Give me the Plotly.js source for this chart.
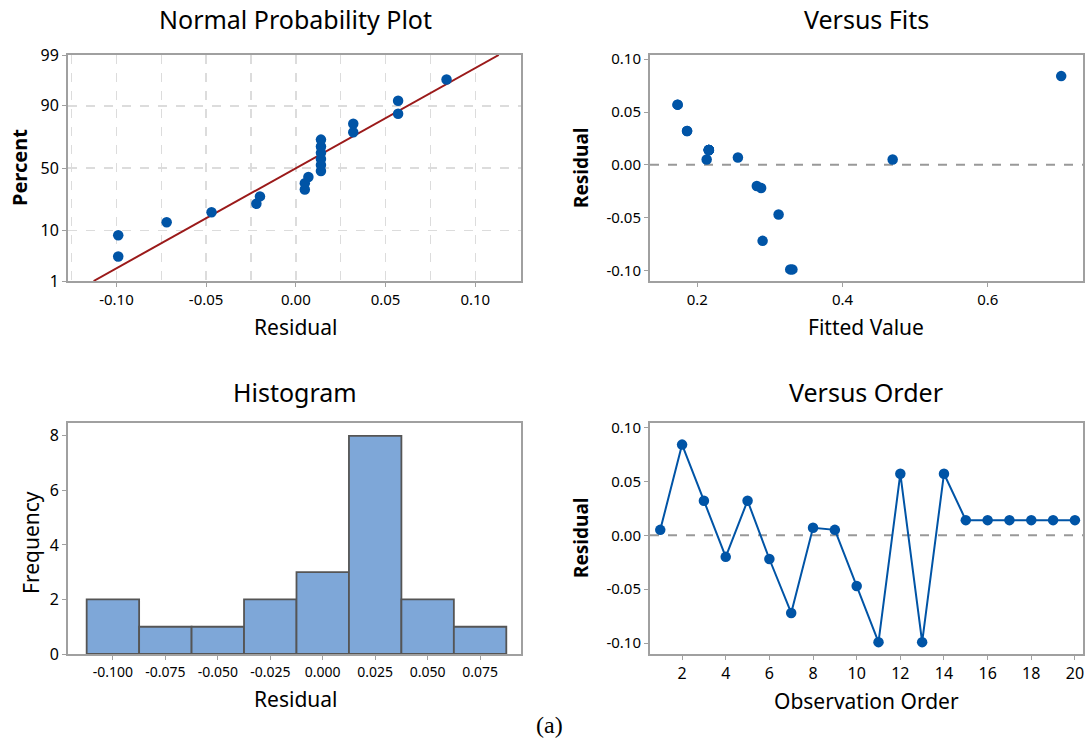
<!DOCTYPE html>
<html><head><meta charset="utf-8">
<script src="https://cdn.plot.ly/plotly-3.0.1.min.js"></script>
<style>html,body{margin:0;padding:0;background:#fff}</style>
</head><body><div id="chart" style="width:1089px;height:743px"></div>
<script>
// ---- data ----
const observationOrder = [1,2,3,4,5,6,7,8,9,10,11,12,13,14,15,16,17,18,19,20];
const residuals = [0.005,0.084,0.032,-0.020,0.032,-0.022,-0.072,0.007,0.005,-0.047,-0.099,0.057,-0.099,0.057,0.014,0.014,0.014,0.014,0.014,0.014];
const fittedValues = [0.469,0.701,0.186,0.282,0.186,0.288,0.290,0.256,0.213,0.312,0.328,0.173,0.331,0.173,0.216,0.216,0.216,0.216,0.216,0.216];
const percentTicks = [1,10,50,90,99];
const normalXTicks = [-0.10,-0.05,0.00,0.05,0.10];
const residualTicks = [-0.10,-0.05,0.00,0.05,0.10];
const fitTicks = [0.2,0.4,0.6];
const histXTicks = [-0.100,-0.075,-0.050,-0.025,0.000,0.025,0.050,0.075];
const histYTicks = [0,2,4,6,8];
const orderTicks = [2,4,6,8,10,12,14,16,18,20];
const histBinStart = -0.1125, histBinEnd = 0.0875, histBinSize = 0.025;

// ---- helpers ----
function probit(p){
  const a=[-3.969683028665376e+01,2.209460984245205e+02,-2.759285104469687e+02,1.383577518672690e+02,-3.066479806614716e+01,2.506628277459239e+00];
  const b=[-5.447609879822406e+01,1.615858368580409e+02,-1.556989798598866e+02,6.680131188771972e+01,-1.328068155288572e+01];
  const c=[-7.784894002430293e-03,-3.223964580411365e-01,-2.400758277161838e+00,-2.549732539343734e+00,4.374664141464968e+00,2.938163982698783e+00];
  const d=[7.784695709041462e-03,3.224671290700398e-01,2.445134137142996e+00,3.754408661907416e+00];
  const pl=0.02425, ph=1-pl; let q,r;
  if(p<pl){q=Math.sqrt(-2*Math.log(p));return (((((c[0]*q+c[1])*q+c[2])*q+c[3])*q+c[4])*q+c[5])/((((d[0]*q+d[1])*q+d[2])*q+d[3])*q+1);}
  if(p<=ph){q=p-0.5;r=q*q;return (((((a[0]*r+a[1])*r+a[2])*r+a[3])*r+a[4])*r+a[5])*q/(((((b[0]*r+b[1])*r+b[2])*r+b[3])*r+b[4])*r+1);}
  q=Math.sqrt(-2*Math.log(1-p));return -(((((c[0]*q+c[1])*q+c[2])*q+c[3])*q+c[4])*q+c[5])/((((d[0]*q+d[1])*q+d[2])*q+d[3])*q+1);
}
const n = residuals.length;
const sorted = residuals.slice().sort((a,b)=>a-b);
const plotPos = sorted.map((_,i)=>(i+1-0.3)/(n+0.4));           // median ranks
const mean = residuals.reduce((s,v)=>s+v,0)/n;
const sd = Math.sqrt(residuals.reduce((s,v)=>s+(v-mean)*(v-mean),0)/(n-1));
const fitP = [0.01, 0.99];
const fitX = fitP.map(p=>mean+sd*probit(p));

const W=1089, H=743;
const px = v=>v/W, py = v=>1-v/H;
const FONT = "Noto Sans, Open Sans, sans-serif";
const BLUE = "#0054A6";
const FRAME = "#a0a0a0";
const fmt = d => t => t.toFixed(d);

const baseAxis = {
  showline:true, mirror:true, linecolor:FRAME, linewidth:2,
  ticks:"outside", ticklen:4, tickcolor:FRAME, tickwidth:1,
  zeroline:false, showgrid:false, fixedrange:true,
  tickfont:{family:FONT, size:15, color:"#000"}
};
const dashGrid = {showgrid:true, gridcolor:"#dcdcdc", gridwidth:1.5, griddash:"dash"};

const traces = [
  {type:"scatter", mode:"lines", x:fitX, y:fitP.map(probit), xaxis:"x", yaxis:"y",
   line:{color:"#9b1a1a", width:2}, hoverinfo:"skip"},
  {type:"scatter", mode:"markers", x:sorted, y:plotPos.map(probit), xaxis:"x", yaxis:"y",
   marker:{color:BLUE, size:10.5}},
  {type:"scatter", mode:"markers", x:fittedValues, y:residuals, xaxis:"x2", yaxis:"y2",
   marker:{color:BLUE, size:10.5}},
  {type:"histogram", x:residuals, xaxis:"x3", yaxis:"y3",
   xbins:{start:histBinStart, end:histBinEnd, size:histBinSize},
   marker:{color:"#7ea7d8", line:{color:"#555555", width:1.8}}},
  {type:"scatter", mode:"lines+markers", x:observationOrder, y:residuals, xaxis:"x4", yaxis:"y4",
   line:{color:BLUE, width:2}, marker:{color:BLUE, size:10.5}}
];

const topY = [py(281), py(55)], botY = [py(654), py(423)];
const leftX = [px(68), px(521)], rightX = [px(650), px(1083)];
const resRange = [-0.110, 0.104];

const layout = {
  width:W, height:H, margin:{l:0,r:0,t:0,b:0}, showlegend:false,
  paper_bgcolor:"#fff", plot_bgcolor:"#fff", bargap:0,
  font:{family:FONT, color:"#000"},
  xaxis:Object.assign({}, baseAxis, dashGrid, {domain:leftX, anchor:"y", range:[-0.127,0.1255],
    tickvals:normalXTicks, ticktext:normalXTicks.map(fmt(2)),
    minor:{tick0:0, dtick:0.025, showgrid:true, gridcolor:"#dcdcdc", gridwidth:1.5, griddash:"dash"}}),
  yaxis:Object.assign({}, baseAxis, dashGrid, {domain:topY, anchor:"x", range:[probit(0.01),probit(0.99)],
    tickvals:percentTicks.map(p=>probit(p/100)), ticktext:percentTicks.map(String),
    tickfont:{family:FONT, size:16, color:"#000"}}),
  xaxis2:Object.assign({}, baseAxis, {domain:rightX, anchor:"y2", range:[0.135,0.731],
    tickvals:fitTicks, ticktext:fitTicks.map(fmt(1))}),
  yaxis2:Object.assign({}, baseAxis, {domain:topY, anchor:"x2", range:resRange,
    tickvals:residualTicks, ticktext:residualTicks.map(fmt(2))}),
  xaxis3:Object.assign({}, baseAxis, {domain:leftX, anchor:"y3", range:[-0.1214,0.0945],
    tickvals:histXTicks, ticktext:histXTicks.map(fmt(3)), tickfont:{family:FONT, size:14, color:"#000"}}),
  yaxis3:Object.assign({}, baseAxis, {domain:botY, anchor:"x3", range:[0,8.47],
    tickvals:histYTicks, ticktext:histYTicks.map(String), tickfont:{family:FONT, size:16, color:"#000"}}),
  xaxis4:Object.assign({}, baseAxis, {domain:rightX, anchor:"y4", range:[0.53,20.37],
    tickvals:orderTicks, ticktext:orderTicks.map(String), tickfont:{family:FONT, size:16, color:"#000"}}),
  yaxis4:Object.assign({}, baseAxis, {domain:botY, anchor:"x4", range:resRange,
    tickvals:residualTicks, ticktext:residualTicks.map(fmt(2))}),
  shapes:[
    {type:"line", xref:"x2 domain", x0:0, x1:1, yref:"y2", y0:0, y1:0, layer:"below",
     line:{color:"#999", width:2, dash:"dash"}},
    {type:"line", xref:"x4 domain", x0:0, x1:1, yref:"y4", y0:0, y1:0, layer:"below",
     line:{color:"#999", width:2, dash:"dash"}}
  ],
  annotations:[]
};
function ann(text, x, y, size, opts){
  layout.annotations.push(Object.assign({text, x:px(x), y:py(y), xref:"paper", yref:"paper",
    showarrow:false, xanchor:"center", yanchor:"middle",
    font:{family:FONT, size, color:"#000"}}, opts||{}));
}
ann("Normal Probability Plot", 295, 19, 25);
ann("Versus Fits", 866, 19, 25);
ann("Histogram", 295, 392, 25);
ann("Versus Order", 866, 392, 25);
ann("Residual", 295, 327, 21);
ann("Fitted Value", 866, 327, 21);
ann("Residual", 295, 699, 21);
ann("Observation Order", 866, 701, 21);
ann("<b>Percent</b>", 19, 168, 20, {textangle:-90});
ann("<b>Residual</b>", 581, 168, 19, {textangle:-90});
ann("Frequency", 31, 543, 21, {textangle:-90});
ann("<b>Residual</b>", 581, 538, 19, {textangle:-90});
ann("(a)", 549, 725, 24, {font:{family:"Liberation Serif, Times New Roman, serif", size:24, color:"#000"}});

Plotly.newPlot("chart", traces, layout, {displayModeBar:false, staticPlot:true});
</script>
</body></html>
